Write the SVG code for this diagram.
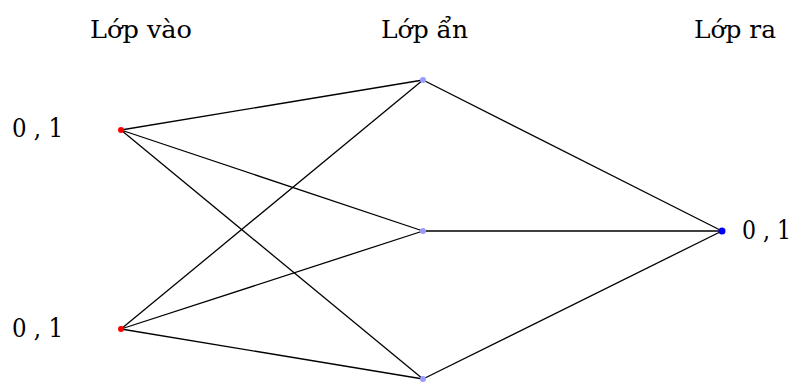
<svg xmlns="http://www.w3.org/2000/svg" width="799" height="383" viewBox="0 0 799 383">
<style>
.t{font-family:"DejaVu Serif",serif;font-size:25px;fill:#000}
.n{font-family:"DejaVu Serif",serif;font-size:26px;fill:#000}
.e{stroke:#000;stroke-width:1.3;fill:none}
.in{fill:#ff0000}.hid{fill:#9a9aff}.out{fill:#0000ff}
</style>
<rect width="799" height="383" fill="#fff"/>
<g id="titles">
<text class="t" x="90" y="38" textLength="102" lengthAdjust="spacingAndGlyphs">Lớp vào</text>
<text class="t" x="381" y="38" textLength="87" lengthAdjust="spacingAndGlyphs">Lớp ẩn</text>
<text class="t" x="694" y="38" textLength="82" lengthAdjust="spacingAndGlyphs">Lớp ra</text>
</g>
<g id="connectors">
<line class="e" x1="121" y1="130" x2="423" y2="80"/>
<line class="e" x1="121" y1="130" x2="423" y2="231"/>
<line class="e" x1="121" y1="130" x2="423" y2="379"/>
<line class="e" x1="121" y1="329" x2="423" y2="80"/>
<line class="e" x1="121" y1="329" x2="423" y2="231"/>
<line class="e" x1="121" y1="329" x2="423" y2="379"/>
<line class="e" x1="423" y1="80" x2="722" y2="231"/>
<line class="e" x1="423" y1="231" x2="722" y2="231"/>
<line class="e" x1="423" y1="379" x2="722" y2="231"/>
</g>
<g id="in1"><circle class="in" cx="121" cy="130" r="3"/><text class="n" x="12" y="137" textLength="51" lengthAdjust="spacingAndGlyphs">0 , 1</text></g>
<g id="in2"><circle class="in" cx="121" cy="329" r="3"/><text class="n" x="12" y="337" textLength="51" lengthAdjust="spacingAndGlyphs">0 , 1</text></g>
<g id="h1"><circle class="hid" cx="423" cy="80" r="3"/></g>
<g id="h2"><circle class="hid" cx="423" cy="231" r="3"/></g>
<g id="h3"><circle class="hid" cx="423" cy="379" r="3"/></g>
<g id="out"><circle class="out" cx="722" cy="231" r="3.5"/><text class="n" x="742" y="239" textLength="49" lengthAdjust="spacingAndGlyphs">0 , 1</text></g>
</svg>
